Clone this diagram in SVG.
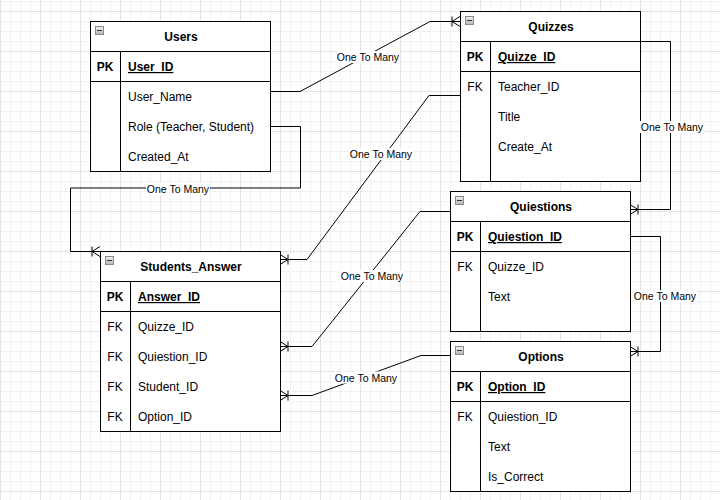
<svg xmlns="http://www.w3.org/2000/svg" width="720" height="500" viewBox="0 0 720 500">
  <style>
    text { font-family: "Liberation Sans", Arial, Helvetica, sans-serif; fill: #000; }
    .title { font-size: 12px; font-weight: bold; text-anchor: middle; }
    .key { font-size: 12px; text-anchor: middle; }
    .key.pk { font-weight: bold; }
    .field { font-size: 12px; }
    .field.pk { font-weight: bold; text-decoration: underline; }
    .box { fill: #fff; stroke: #000; stroke-width: 1; }
    .rule { stroke: #000; stroke-width: 1; fill: none; }
    .edge { stroke: #000; stroke-width: 1; fill: none; marker-end: url(#oneToMany); }
    .lbl { font-size: 10.5px; text-anchor: middle; }
    .lblbg { fill: #fff; }
    .toggle { fill: url(#toggleFill); stroke: #8a8a8a; stroke-width: 1; }
    .minus { stroke: #333; stroke-width: 1; }
  </style>
  <defs>
    <pattern id="grid" width="40" height="40" patternUnits="userSpaceOnUse" x="0" y="11">
      <path d="M10.5,0V40M20.5,0V40M30.5,0V40M0,10.5H40M0,20.5H40M0,30.5H40" stroke="#f1f1f1" fill="none"/>
      <path d="M0.5,0V40M0,0.5H40" stroke="#e2e2e2" fill="none"/>
    </pattern>
    <linearGradient id="toggleFill" x1="0" y1="0" x2="0" y2="1">
      <stop offset="0" stop-color="#f2f2f2"/>
      <stop offset="1" stop-color="#b4b4b4"/>
    </linearGradient>
    <!-- crow's foot with bar: one-or-many -->
    <marker id="oneToMany" markerUnits="userSpaceOnUse" orient="auto" refX="0" refY="0" markerWidth="20" markerHeight="20" overflow="visible">
      <path d="M-8,-5V5M-8,0L0,-5M-8,0L0,5" stroke="#000" stroke-width="1" fill="none"/>
    </marker>
  </defs>

  <rect width="720" height="500" fill="#fff"/>
  <rect width="720" height="500" fill="url(#grid)"/>

  <!-- Users -->
  <g id="users">
    <rect class="box" x="90.5" y="21.5" width="180" height="150"/>
    <path class="rule" d="M90.5,51.5H270.5M90.5,81.5H270.5M120.5,51.5V171.5"/>
    <rect class="toggle" x="95.5" y="26.5" width="8" height="8"/>
    <path class="minus" d="M97,30.5H102"/>
    <text class="title" x="181" y="41">Users</text>
    <text class="key pk" x="105" y="71">PK</text>
    <text class="field pk" x="128" y="71">User_ID</text>
    <text class="field" x="128" y="101">User_Name</text>
    <text class="field" x="128" y="131">Role (Teacher, Student)</text>
    <text class="field" x="128" y="161">Created_At</text>
  </g>

  <!-- Quizzes -->
  <g id="quizzes">
    <rect class="box" x="460.5" y="11.5" width="180" height="170"/>
    <path class="rule" d="M460.5,41.5H640.5M460.5,71.5H640.5M490.5,41.5V181.5"/>
    <rect class="toggle" x="465.5" y="16.5" width="8" height="8"/>
    <path class="minus" d="M467,20.5H472"/>
    <text class="title" x="551" y="31">Quizzes</text>
    <text class="key pk" x="475" y="61">PK</text>
    <text class="field pk" x="498" y="61">Quizze_ID</text>
    <text class="key" x="475" y="91">FK</text>
    <text class="field" x="498" y="91">Teacher_ID</text>
    <text class="field" x="498" y="121">Title</text>
    <text class="field" x="498" y="151">Create_At</text>
  </g>

  <!-- Students_Answer -->
  <g id="students-answer">
    <rect class="box" x="100.5" y="251.5" width="180" height="180"/>
    <path class="rule" d="M100.5,281.5H280.5M100.5,311.5H280.5M130.5,281.5V431.5"/>
    <rect class="toggle" x="105.5" y="256.5" width="8" height="8"/>
    <path class="minus" d="M107,260.5H112"/>
    <text class="title" x="191" y="271">Students_Answer</text>
    <text class="key pk" x="115" y="301">PK</text>
    <text class="field pk" x="138" y="301">Answer_ID</text>
    <text class="key" x="115" y="331">FK</text>
    <text class="field" x="138" y="331">Quizze_ID</text>
    <text class="key" x="115" y="361">FK</text>
    <text class="field" x="138" y="361">Quiestion_ID</text>
    <text class="key" x="115" y="391">FK</text>
    <text class="field" x="138" y="391">Student_ID</text>
    <text class="key" x="115" y="421">FK</text>
    <text class="field" x="138" y="421">Option_ID</text>
  </g>

  <!-- Quiestions -->
  <g id="quiestions">
    <rect class="box" x="450.5" y="191.5" width="180" height="140"/>
    <path class="rule" d="M450.5,221.5H630.5M450.5,251.5H630.5M480.5,221.5V331.5"/>
    <rect class="toggle" x="455.5" y="196.5" width="8" height="8"/>
    <path class="minus" d="M457,200.5H462"/>
    <text class="title" x="541" y="211">Quiestions</text>
    <text class="key pk" x="465" y="241">PK</text>
    <text class="field pk" x="488" y="241">Quiestion_ID</text>
    <text class="key" x="465" y="271">FK</text>
    <text class="field" x="488" y="271">Quizze_ID</text>
    <text class="field" x="488" y="301">Text</text>
  </g>

  <!-- Options -->
  <g id="options">
    <rect class="box" x="450.5" y="341.5" width="180" height="150"/>
    <path class="rule" d="M450.5,371.5H630.5M450.5,401.5H630.5M480.5,371.5V491.5"/>
    <rect class="toggle" x="455.5" y="346.5" width="8" height="8"/>
    <path class="minus" d="M457,350.5H462"/>
    <text class="title" x="541" y="361">Options</text>
    <text class="key pk" x="465" y="391">PK</text>
    <text class="field pk" x="488" y="391">Option_ID</text>
    <text class="key" x="465" y="421">FK</text>
    <text class="field" x="488" y="421">Quiestion_ID</text>
    <text class="field" x="488" y="451">Text</text>
    <text class="field" x="488" y="481">Is_Correct</text>
  </g>

  <!-- relationships -->
  <g id="connectors">
    <path class="edge" d="M270,91.5H300L430,21.5H460"/>
    <path class="edge" d="M270,126.5H300.5V188H70.5V251.5H100"/>
    <path class="edge" d="M460,95.5H429L307,259.5H280"/>
    <path class="edge" d="M450,211.5H420L312,346.5H280"/>
    <path class="edge" d="M450,355.5H421L312,395.5H280"/>
    <path class="edge" d="M640,41.5H670.5V209.5H630"/>
    <path class="edge" d="M630,236.5H660.5V351.5H630"/>

    <rect class="lblbg" x="336" y="51" width="64" height="12"/>
    <text class="lbl" x="368" y="61">One To Many</text>
    <rect class="lblbg" x="146" y="182.5" width="64" height="12"/>
    <text class="lbl" x="178" y="192.5">One To Many</text>
    <rect class="lblbg" x="349" y="148" width="64" height="12"/>
    <text class="lbl" x="381" y="158">One To Many</text>
    <rect class="lblbg" x="340" y="270" width="64" height="12"/>
    <text class="lbl" x="372" y="280">One To Many</text>
    <rect class="lblbg" x="334" y="371.5" width="64" height="12"/>
    <text class="lbl" x="366" y="381.5">One To Many</text>
    <rect class="lblbg" x="640" y="121" width="64" height="12"/>
    <text class="lbl" x="672" y="131">One To Many</text>
    <rect class="lblbg" x="633" y="290" width="64" height="12"/>
    <text class="lbl" x="665" y="300">One To Many</text>
  </g>
</svg>
